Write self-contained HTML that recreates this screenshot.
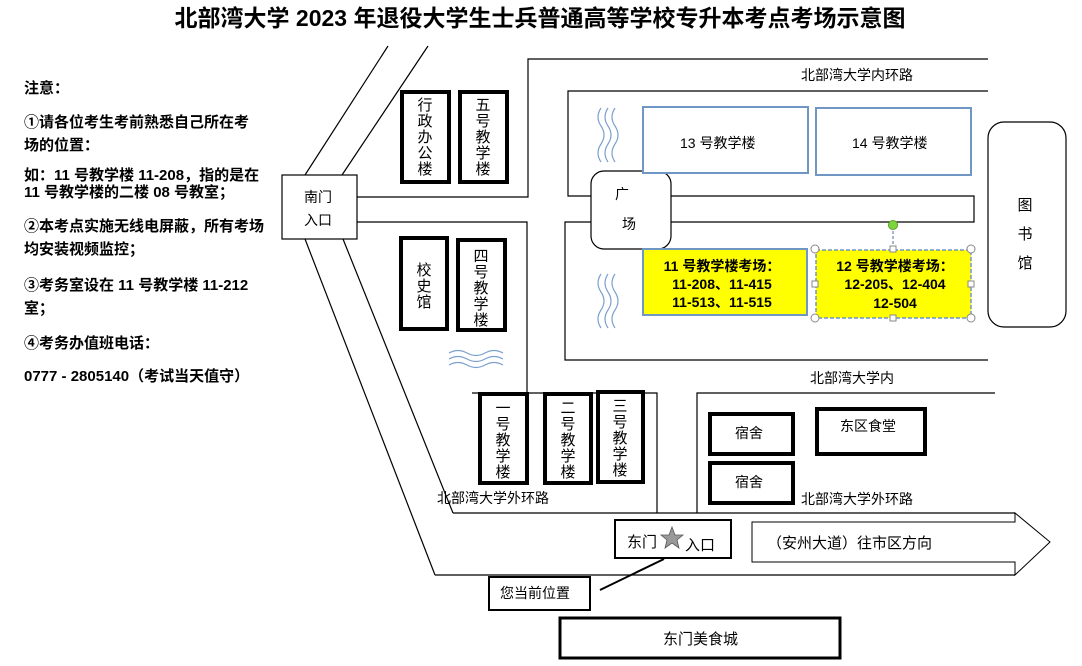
<!DOCTYPE html>
<html><head><meta charset="utf-8"><style>
html,body{margin:0;padding:0;background:#fff;}
svg{display:block;}
text{font-family:"Liberation Sans","Noto Sans CJK SC",sans-serif;fill:#000;}
.b{font-weight:bold;font-size:15px;}
.n{font-size:14px;}
.k{fill:none;stroke:#000;stroke-width:4;}
.l{fill:none;stroke:#000;stroke-width:1.2;}
.w{fill:none;stroke:#7da0cf;stroke-width:1.2;}
</style></head><body>
<svg width="1082" height="666" viewBox="0 0 1082 666" xmlns="http://www.w3.org/2000/svg">
<text x="540" y="26" text-anchor="middle" style="font-size:23px;font-weight:bold">北部湾大学 2023 年退役大学生士兵普通高等学校专升本考点考场示意图</text>
<g class="b">
<text x="24" y="93">注意：</text>
<text x="24" y="127">①请各位考生考前熟悉自己所在考</text>
<text x="24" y="150">场的位置：</text>
<text x="24" y="180">如：11 号教学楼 11-208，指的是在</text>
<text x="24" y="197">11 号教学楼的二楼 08 号教室；</text>
<text x="24" y="231">②本考点实施无线电屏蔽，所有考场</text>
<text x="24" y="254">均安装视频监控；</text>
<text x="24" y="290">③考务室设在 11 号教学楼 11-212</text>
<text x="24" y="313">室；</text>
<text x="24" y="348">④考务办值班电话：</text>
<text x="24" y="381">0777 - 2805140（考试当天值守）</text>
</g>
<line class="l" x1="388" y1="46" x2="305" y2="175"/>
<line class="l" x1="428" y1="46" x2="342" y2="175"/>
<line class="l" x1="305" y1="239" x2="435" y2="575"/>
<line class="l" x1="343" y1="239" x2="453" y2="513"/>
<polyline class="l" points="357,197 528,197 528,59 988,59"/>
<polyline class="l" points="357,222 527,222 527,393"/>
<polyline class="l" points="472,393 657,393 657,513"/>
<polyline class="l" points="697,513 697,393 995,393"/>
<line class="l" x1="453" y1="513" x2="1015" y2="513"/>
<line class="l" x1="435" y1="575" x2="1015" y2="575"/>
<polyline class="l" points="988,91 568,91 568,196 592,196"/>
<polyline class="l" points="592,222 565,222 565,360 988,360"/>
<polyline class="l" points="671,196 974,196 974,222 671,222"/>
<rect x="591" y="171" width="80" height="78" rx="13" fill="#fff" stroke="#000" stroke-width="1.2"/>
<text x="615" y="199" class="n">广</text>
<text x="622" y="229" class="n">场</text>
<rect x="282" y="175" width="75" height="64" fill="#fff" stroke="#000" stroke-width="1.2"/>
<text x="304" y="202" class="n">南门</text>
<text x="304" y="225" class="n">入口</text>
<rect class="k" x="402" y="92" width="47" height="90"/>
<rect class="k" x="460" y="92" width="47" height="90"/>
<rect class="k" x="401" y="238" width="46" height="91"/>
<rect class="k" x="458" y="240" width="47" height="90"/>
<g style="font-size:15px" text-anchor="middle">
<text x="425" y="110">行</text><text x="425" y="126">政</text><text x="425" y="142">办</text><text x="425" y="158">公</text><text x="425" y="174">楼</text>
<text x="483" y="110">五</text><text x="483" y="126">号</text><text x="483" y="142">教</text><text x="483" y="158">学</text><text x="483" y="174">楼</text>
<text x="424" y="275">校</text><text x="424" y="291">史</text><text x="424" y="307">馆</text>
<text x="481" y="261">四</text><text x="481" y="277">号</text><text x="481" y="293">教</text><text x="481" y="309">学</text><text x="481" y="325">楼</text>
</g>
<rect class="k" x="480" y="394" width="47" height="89"/>
<rect class="k" x="545" y="394" width="46" height="89"/>
<rect class="k" x="598" y="392" width="45" height="90"/>
<g style="font-size:15px" text-anchor="middle">
<text x="503" y="413">一</text><text x="503" y="429">号</text><text x="503" y="445">教</text><text x="503" y="461">学</text><text x="503" y="477">楼</text>
<text x="568" y="413">二</text><text x="568" y="429">号</text><text x="568" y="445">教</text><text x="568" y="461">学</text><text x="568" y="477">楼</text>
<text x="620" y="411">三</text><text x="620" y="427">号</text><text x="620" y="443">教</text><text x="620" y="459">学</text><text x="620" y="475">楼</text>
</g>
<rect class="k" x="710" y="414" width="83" height="40" stroke-width="3"/>
<rect class="k" x="710" y="463" width="83" height="40" stroke-width="3"/>
<rect class="k" x="817" y="409" width="108" height="45" stroke-width="3"/>
<text x="735" y="438" class="n">宿舍</text>
<text x="735" y="487" class="n">宿舍</text>
<text x="840" y="431" class="n">东区食堂</text>
<rect x="643" y="107" width="165" height="66" fill="#fff" stroke="#7096c4" stroke-width="2"/>
<rect x="816" y="108" width="155" height="67" fill="#fff" stroke="#7096c4" stroke-width="2"/>
<text x="680" y="148" class="n">13 号教学楼</text>
<text x="852" y="148" class="n">14 号教学楼</text>
<rect x="643" y="249" width="164" height="66" fill="#ff0" stroke="#7096c4" stroke-width="2"/>
<rect x="816" y="250" width="155" height="68" fill="#ff0" stroke="#7096c4" stroke-width="1.5" stroke-dasharray="4,2"/>
<g text-anchor="middle" style="font-size:14px;font-weight:bold">
<text x="722" y="271">11 号教学楼考场：</text>
<text x="722" y="289">11-208、11-415</text>
<text x="722" y="307">11-513、11-515</text>
<text x="895" y="271">12 号教学楼考场：</text>
<text x="895" y="289">12-205、12-404</text>
<text x="895" y="308">12-504</text>
</g>
<line x1="893" y1="226" x2="893" y2="250" stroke="#4a6fa5" stroke-dasharray="3,2"/>
<circle cx="893" cy="225" r="4.5" fill="#7dd63c" stroke="#5a9a2a"/>
<g fill="#fff" stroke="#888">
<circle cx="815" cy="249" r="4"/><circle cx="971" cy="249" r="4"/><circle cx="815" cy="318" r="4"/><circle cx="971" cy="318" r="4"/>
<rect x="890" y="246" width="6" height="6"/><rect x="890" y="315" width="6" height="6"/><rect x="812" y="281" width="6" height="6"/><rect x="968" y="281" width="6" height="6"/>
</g>
<rect x="988" y="122" width="78" height="205" rx="16" fill="#fff" stroke="#000" stroke-width="1.2"/>
<g style="font-size:15px" text-anchor="middle"><text x="1025" y="210">图</text><text x="1025" y="239">书</text><text x="1025" y="268">馆</text></g>
<g class="w">
<path d="M601,108 q-6,9 0,18 q6,9 0,18 q-6,9 0,18"/>
<path d="M608,108 q-6,9 0,18 q6,9 0,18 q-6,9 0,18"/>
<path d="M615,108 q-6,9 0,18 q6,9 0,18 q-6,9 0,18"/>
<path d="M601,274 q-6,9 0,18 q6,9 0,18 q-6,9 0,18"/>
<path d="M608,274 q-6,9 0,18 q6,9 0,18 q-6,9 0,18"/>
<path d="M615,274 q-6,9 0,18 q6,9 0,18 q-6,9 0,18"/>
<path d="M449,353 q9,-5 18,0 q9,5 18,0 q9,-5 18,0"/>
<path d="M449,359 q9,-5 18,0 q9,5 18,0 q9,-5 18,0"/>
<path d="M449,365 q9,-5 18,0 q9,5 18,0 q9,-5 18,0"/>
</g>
<g class="n">
<text x="801" y="80">北部湾大学内环路</text>
<text x="810" y="383">北部湾大学内</text>
<text x="437" y="503">北部湾大学外环路</text>
<text x="801" y="504">北部湾大学外环路</text>
</g>
<polygon points="752,522 1015,522 1015,513 1050,542 1015,575 1015,562 752,562" fill="#fff" stroke="#000" stroke-width="1"/>
<text x="767" y="548" style="font-size:15px">（安州大道）往市区方向</text>
<rect x="615" y="520" width="116" height="38" fill="#fff" stroke="#000" stroke-width="2"/>
<text x="627" y="547" style="font-size:15px">东门</text>
<polygon points="672,527 675,535 683,535 677,540 679,548 672,543 665,548 667,540 661,535 669,535" fill="#999" stroke="#555" stroke-width="0.8"/>
<text x="685" y="550" style="font-size:15px">入口</text>
<line x1="600" y1="590" x2="664" y2="559" stroke="#000" stroke-width="2"/>
<rect x="489" y="577" width="101" height="33" fill="#fff" stroke="#000" stroke-width="2"/>
<text x="500" y="598" class="n">您当前位置</text>
<rect x="560" y="618" width="280" height="40" fill="#fff" stroke="#000" stroke-width="3"/>
<text x="663" y="644" style="font-size:15px">东门美食城</text>
</svg>
</body></html>
